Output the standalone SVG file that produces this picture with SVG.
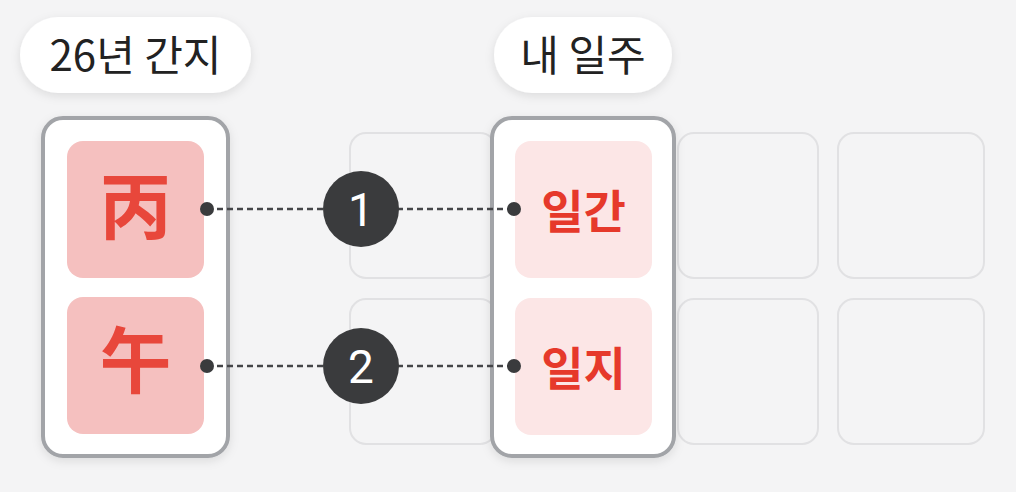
<svg xmlns="http://www.w3.org/2000/svg" width="1016" height="492" viewBox="0 0 1016 492">
<defs>
<filter id="sh" x="-20%" y="-20%" width="140%" height="140%">
<feDropShadow dx="0" dy="3" stdDeviation="5" flood-color="#000" flood-opacity="0.10"/>
</filter>
<style>
.ghost{fill:#f4f4f5;stroke:#e1e1e3;stroke-width:2}
.pill{fill:#fff}
.pilltxt{font-family:"Noto Sans CJK KR","Noto Sans",sans-serif;font-size:42px;font-weight:400;fill:#222;text-anchor:middle}
.box{fill:#fff;stroke:#a2a4a8;stroke-width:4}
.stem{fill:#f5c0bf}
.pal{fill:#fce6e6}
.han{font-family:"Noto Sans CJK KR","Noto Sans CJK SC",sans-serif;font-size:72px;font-weight:700;fill:#e8473b;text-anchor:middle}
.kr{font-family:"Noto Sans CJK KR",sans-serif;font-size:46px;font-weight:700;fill:#e6392b;text-anchor:middle}
.line{stroke:#444548;stroke-width:2.5;stroke-dasharray:6 4;fill:none}
.dot{fill:#3a3b3d}
.badge{fill:#3a3b3d}
.num{font-family:"Roboto","Liberation Sans",sans-serif;font-size:46px;fill:#fff;text-anchor:middle}
</style>
</defs>
<rect width="1016" height="492" fill="#f4f4f5"/>
<g id="ghosts">
<rect class="ghost" x="350" y="133" width="146" height="145" rx="16"/>
<rect class="ghost" x="514" y="133" width="146" height="145" rx="16"/>
<rect class="ghost" x="678" y="133" width="140" height="145" rx="16"/>
<rect class="ghost" x="838" y="133" width="146" height="145" rx="16"/>
<rect class="ghost" x="350" y="299" width="146" height="145" rx="16"/>
<rect class="ghost" x="514" y="299" width="146" height="145" rx="16"/>
<rect class="ghost" x="678" y="299" width="140" height="145" rx="16"/>
<rect class="ghost" x="838" y="299" width="146" height="145" rx="16"/>
</g>
<g id="label-year">
<rect class="pill" x="20" y="17" width="231" height="76" rx="38" filter="url(#sh)"/>
<text class="pilltxt" x="135.5" y="71">26년 간지</text>
</g>
<g id="label-mine">
<rect class="pill" x="494" y="17" width="178" height="76" rx="38" filter="url(#sh)"/>
<text class="pilltxt" x="583" y="71">내 일주</text>
</g>
<g id="year-pillar">
<rect class="box" x="43" y="118" width="185" height="338" rx="20" filter="url(#sh)"/>
</g>
<g id="stem-byeong">
<rect class="stem" x="67" y="141" width="137" height="137" rx="16"/>
<text class="han" x="135.5" y="233">丙</text>
</g>
<g id="branch-o">
<rect class="stem" x="67" y="297" width="137" height="137" rx="16"/>
<text class="han" x="135.5" y="387">午</text>
</g>
<g id="my-pillar">
<rect class="box" x="492" y="118" width="182" height="338" rx="20" filter="url(#sh)"/>
</g>
<g id="ilgan">
<rect class="pal" x="515" y="141" width="137" height="137" rx="16"/>
<text class="kr" x="583.5" y="228">일간</text>
</g>
<g id="ilji">
<rect class="pal" x="515" y="298" width="137" height="137" rx="16"/>
<text class="kr" x="583.5" y="385">일지</text>
</g>
<g id="connectors">
<line class="line" x1="207" y1="209" x2="514" y2="209"/>
<circle class="dot" cx="207" cy="209" r="7"/>
<circle class="dot" cx="514" cy="209" r="7"/>
<line class="line" x1="207" y1="366" x2="514" y2="366"/>
<circle class="dot" cx="207" cy="366" r="7"/>
<circle class="dot" cx="514" cy="366" r="7"/>
</g>
<g id="badge-1">
<circle class="badge" cx="361" cy="209" r="38"/>
<text class="num" x="361" y="226">1</text>
</g>
<g id="badge-2">
<circle class="badge" cx="361" cy="366" r="38"/>
<text class="num" x="361" y="383">2</text>
</g>
</svg>
